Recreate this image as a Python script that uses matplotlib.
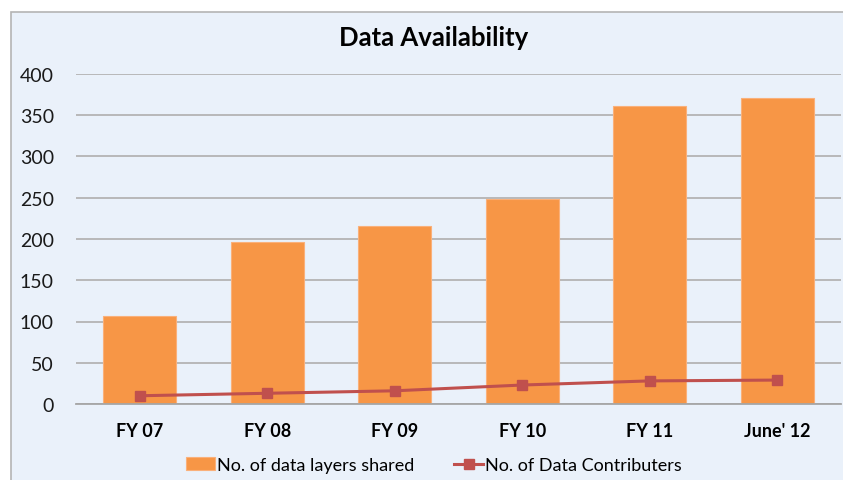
import matplotlib
matplotlib.use('Agg')
import matplotlib.pyplot as plt
from matplotlib.patches import Rectangle

plt.rcParams['font.family'] = ['Lato', 'DejaVu Sans']

# data
categories = ['FY 07', 'FY 08', 'FY 09', 'FY 10', 'FY 11', "June' 12"]
layers_shared = [107, 196, 216, 248, 361, 371]
contributors = [10, 13, 16, 23, 28, 29]

W, H = 843, 481
fig = plt.figure(figsize=(W / 100, H / 100), dpi=100)
fig.patch.set_facecolor('white')

# chart background with border on left/top
bg = Rectangle((11 / W, -0.01), 1.02, 1 - 13 / H + 0.01, transform=fig.transFigure,
               facecolor='#EAF1FA', edgecolor='#B4B4B4', linewidth=1.2, zorder=-5)
fig.patches.append(bg)

ax = fig.add_axes([76 / W, 76 / H, (841 - 76) / W, (405 - 75) / H])
ax.set_facecolor('none')
ax.set_zorder(2)

x = range(len(categories))
bars = ax.bar(x, layers_shared, width=0.57, color='#F79646', edgecolor='#FAB07A',
              linewidth=0.8, zorder=2, label='No. of data layers shared')
line, = ax.plot(x, contributors, color='#C0504D', linewidth=2.2, marker='s', markersize=7,
                zorder=3, label='No. of Data Contributers')

ax.set_xlim(-0.5, len(categories) - 0.5)
ax.set_ylim(0, 400)
ax.set_yticks(range(0, 401, 50))
ax.yaxis.grid(True, color='#B4B4B4', linewidth=1.3)
ax.set_axisbelow(True)
for s in ['top', 'right', 'left']:
    ax.spines[s].set_visible(False)
ax.spines['bottom'].set_color('#A6A6A6')
ax.spines['bottom'].set_linewidth(1.3)
ax.tick_params(axis='both', length=0)
ax.tick_params(axis='y', labelsize=14, pad=16, labelcolor='#1a1a1a')
ax.tick_params(axis='x', labelsize=13, pad=13)
ax.set_xticks(list(x))
ax.set_xticklabels(categories, fontweight='bold')

fig.text(434 / W, 1 - 38 / H, 'Data Availability', ha='center', va='center',
         fontsize=18.5, fontweight='bold')

fig.legend([bars, line], ['No. of data layers shared', 'No. of Data Contributers'],
           loc='center', bbox_to_anchor=(434 / W, 1 - 466 / H), ncol=2, frameon=False,
           fontsize=13, handlelength=1.6, handletextpad=0.1, columnspacing=2.2)

fig.savefig('out.png', dpi=100)
